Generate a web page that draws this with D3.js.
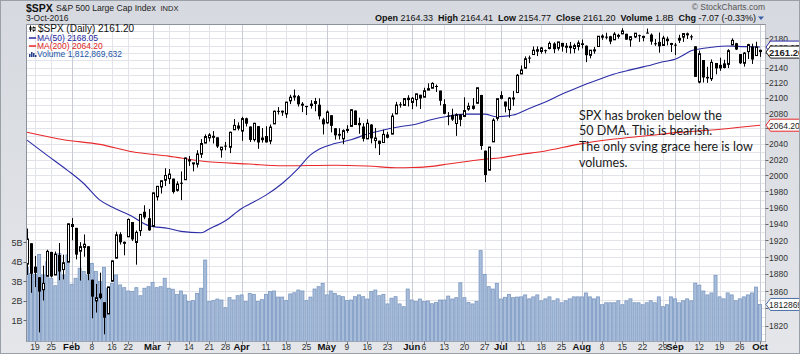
<!DOCTYPE html>
<html>
<head>
<meta charset="utf-8">
<script src="https://cdn.jsdelivr.net/npm/d3@7"></script>
<style>
body { margin: 0; background: #fff; }
svg { display: block; }
</style>
</head>
<body>
<div id="chart"></div>
<script>
// ---- data (S&P 500 daily, 14-Jan-2016 .. 3-Oct-2016) ----
const dates = [
"1/14","1/15","1/19","1/20","1/21","1/22","1/25","1/26","1/27","1/28","1/29",
"2/1","2/2","2/3","2/4","2/5","2/8","2/9","2/10","2/11","2/12","2/16","2/17","2/18","2/19","2/22","2/23","2/24","2/25","2/26","2/29",
"3/1","3/2","3/3","3/4","3/7","3/8","3/9","3/10","3/11","3/14","3/15","3/16","3/17","3/18","3/21","3/22","3/23","3/24","3/28","3/29","3/30","3/31",
"4/1","4/4","4/5","4/6","4/7","4/8","4/11","4/12","4/13","4/14","4/15","4/18","4/19","4/20","4/21","4/22","4/25","4/26","4/27","4/28","4/29",
"5/2","5/3","5/4","5/5","5/6","5/9","5/10","5/11","5/12","5/13","5/16","5/17","5/18","5/19","5/20","5/23","5/24","5/25","5/26","5/27","5/31",
"6/1","6/2","6/3","6/6","6/7","6/8","6/9","6/10","6/13","6/14","6/15","6/16","6/17","6/20","6/21","6/22","6/23","6/24","6/27","6/28","6/29","6/30",
"7/1","7/5","7/6","7/7","7/8","7/11","7/12","7/13","7/14","7/15","7/18","7/19","7/20","7/21","7/22","7/25","7/26","7/27","7/28","7/29",
"8/1","8/2","8/3","8/4","8/5","8/8","8/9","8/10","8/11","8/12","8/15","8/16","8/17","8/18","8/19","8/22","8/23","8/24","8/25","8/26","8/29","8/30","8/31",
"9/1","9/2","9/6","9/7","9/8","9/9","9/12","9/13","9/14","9/15","9/16","9/19","9/20","9/21","9/22","9/23","9/26","9/27","9/28","9/29","9/30",
"10/3"];

const opens = [
1891.68,1916.68,1888.66,1876.18,1861.46,1877.40,1906.28,1878.79,1902.52,1885.22,1894.00,
1936.94,1935.26,1907.07,1911.67,1913.07,1873.25,1848.46,1857.10,1847.00,1833.40,1871.44,1898.80,1927.57,1916.74,1924.44,1942.38,1917.56,1931.87,1954.95,1947.13,
1937.09,1973.39,1985.60,1994.01,1996.11,1996.05,1981.44,1990.97,1994.71,2019.27,2015.27,2014.24,2026.90,2041.16,2047.88,2048.64,2048.55,2032.48,2037.89,2035.75,2058.27,2063.77,
2056.62,2073.19,2062.50,2045.56,2063.01,2045.54,2050.23,2043.72,2065.92,2082.89,2083.10,2078.83,2096.05,2101.52,2102.09,2091.49,2089.37,2089.84,2092.57,2090.93,2071.82,
2067.17,2077.18,2060.30,2052.95,2046.61,2057.55,2062.63,2083.29,2067.17,2062.50,2046.53,2065.04,2044.38,2044.21,2041.88,2052.23,2052.65,2078.93,2091.44,2090.06,2100.13,
2093.94,2097.71,2104.07,2100.83,2110.18,2112.71,2115.65,2109.57,2091.75,2076.65,2077.60,2066.36,2078.20,2075.58,2085.19,2089.75,2092.80,2103.81,2031.45,2006.67,2042.69,2073.17,
2099.34,2095.05,2084.43,2100.42,2106.97,2131.72,2139.50,2153.81,2157.88,2165.13,2162.04,2163.79,2166.10,2172.91,2166.47,2173.71,2168.97,2169.81,2166.05,2168.83,
2173.15,2169.94,2156.81,2163.51,2168.79,2183.76,2182.24,2182.81,2177.97,2183.74,2186.08,2186.24,2177.84,2181.90,2184.24,2181.58,2187.81,2185.09,2173.29,2175.10,2170.19,2179.45,2173.56,
2171.33,2177.49,2181.61,2185.17,2182.76,2169.08,2120.86,2150.47,2127.86,2125.36,2146.48,2143.99,2145.94,2144.58,2170.94,2173.29,2158.54,2146.04,2161.85,2168.90,2156.51,
2164.33];

const highs = [
1934.47,1916.68,1901.44,1876.18,1889.85,1908.85,1906.28,1906.73,1916.99,1902.96,1940.24,
1947.20,1935.26,1918.01,1927.35,1913.07,1873.25,1868.25,1881.60,1847.00,1864.78,1895.77,1930.68,1930.00,1918.78,1946.70,1942.38,1932.08,1951.83,1962.96,1958.27,
1978.35,1986.51,1993.69,2009.13,2008.16,1996.05,1992.69,2005.08,2022.37,2024.57,2015.94,2032.02,2046.24,2052.36,2053.91,2056.60,2048.55,2036.04,2042.67,2055.91,2072.21,2067.92,
2075.07,2074.02,2062.50,2067.33,2063.01,2060.63,2062.93,2065.05,2083.18,2087.84,2083.22,2094.66,2104.05,2111.05,2103.78,2094.32,2089.37,2096.87,2099.89,2099.30,2073.85,
2083.42,2077.18,2060.30,2060.23,2058.79,2064.15,2084.87,2083.29,2073.99,2066.79,2071.88,2065.69,2060.61,2044.21,2058.35,2055.58,2079.67,2094.73,2094.30,2099.06,2103.48,
2100.97,2105.26,2104.07,2113.36,2119.22,2120.55,2117.64,2109.57,2098.12,2081.30,2085.65,2079.62,2078.20,2100.66,2093.66,2099.71,2113.32,2103.81,2031.45,2036.09,2073.13,2098.94,
2108.71,2095.05,2100.72,2109.08,2131.71,2143.16,2155.40,2156.45,2168.99,2169.05,2168.35,2164.63,2175.63,2174.56,2175.11,2173.71,2173.54,2174.98,2172.85,2177.09,
2178.29,2170.20,2163.79,2168.19,2182.87,2185.44,2187.66,2183.41,2188.45,2186.28,2193.81,2186.24,2183.08,2187.03,2185.00,2183.58,2193.42,2186.66,2179.01,2187.94,2183.48,2182.27,2173.79,
2173.56,2184.87,2186.57,2187.87,2184.94,2169.08,2163.30,2150.47,2141.33,2151.31,2146.48,2153.61,2150.80,2165.11,2179.99,2173.75,2158.54,2161.13,2172.40,2172.67,2175.30,
2164.41];

const lows = [
1878.93,1857.83,1864.60,1812.29,1848.98,1877.40,1875.97,1878.79,1872.70,1873.65,1894.00,
1920.30,1897.29,1872.23,1900.52,1872.65,1828.46,1834.94,1850.32,1810.10,1833.40,1871.44,1898.80,1915.09,1902.17,1924.44,1919.44,1891.00,1925.41,1945.78,1931.81,
1937.09,1968.80,1977.37,1986.77,1989.30,1977.43,1979.84,1969.25,1994.71,2012.05,2005.23,2010.04,2022.16,2041.16,2043.14,2040.57,2034.86,2022.49,2031.96,2028.31,2058.27,2057.46,
2043.98,2062.57,2042.56,2043.09,2033.80,2041.69,2041.88,2039.74,2065.92,2078.13,2076.31,2073.65,2091.68,2096.32,2088.52,2081.20,2077.52,2085.80,2082.31,2071.62,2052.28,
2066.11,2054.89,2045.55,2045.77,2039.74,2054.31,2062.63,2064.46,2053.13,2043.13,2046.53,2040.82,2034.49,2025.91,2041.88,2047.26,2052.65,2078.93,2087.08,2089.84,2088.66,
2085.10,2088.59,2085.36,2100.83,2110.18,2112.71,2107.73,2089.96,2078.46,2064.10,2069.80,2050.37,2062.84,2075.58,2083.02,2084.36,2092.80,2032.57,1991.68,2006.67,2042.69,2070.00,
2097.90,2080.86,2074.02,2089.39,2106.97,2131.72,2139.50,2146.21,2157.88,2155.79,2159.07,2159.40,2164.89,2159.75,2163.24,2161.95,2160.18,2159.07,2159.74,2163.49,
2166.21,2147.58,2152.70,2159.07,2168.79,2177.85,2178.61,2172.00,2177.97,2179.42,2186.08,2178.14,2168.50,2180.46,2175.13,2175.96,2186.80,2171.25,2169.74,2160.39,2170.19,2170.41,2161.35,
2157.09,2173.59,2175.10,2179.07,2177.49,2127.81,2119.12,2120.27,2119.90,2122.36,2131.20,2135.91,2139.17,2139.57,2170.94,2163.97,2145.04,2141.55,2151.79,2145.20,2156.51,
2154.77];

const closes = [
1921.84,1880.33,1881.33,1859.33,1868.99,1906.90,1877.08,1903.63,1882.95,1893.36,1940.24,
1939.38,1903.03,1912.53,1915.45,1880.05,1853.44,1852.21,1851.86,1829.08,1864.78,1895.58,1926.82,1917.83,1917.78,1945.50,1921.27,1929.80,1951.70,1948.05,1932.23,
1978.35,1986.45,1993.40,1999.99,2001.76,1979.26,1989.26,1989.57,2022.19,2019.64,2015.93,2027.22,2040.59,2049.58,2051.60,2049.80,2036.71,2035.94,2037.05,2055.01,2063.95,2059.74,
2072.78,2066.13,2045.17,2066.66,2041.91,2047.60,2041.99,2061.72,2082.42,2082.78,2080.73,2094.34,2100.80,2102.40,2091.48,2091.58,2087.79,2091.70,2095.15,2075.81,2065.30,
2081.43,2063.37,2051.12,2050.63,2057.14,2058.69,2084.39,2064.46,2064.11,2046.61,2066.66,2047.21,2047.63,2040.04,2052.32,2048.04,2076.06,2090.54,2090.10,2099.06,2096.95,
2099.33,2105.26,2099.13,2109.41,2112.13,2119.12,2115.48,2096.07,2079.06,2075.32,2071.50,2077.99,2071.22,2083.25,2088.90,2085.45,2113.32,2037.41,2000.54,2036.09,2070.77,2098.86,
2102.95,2088.55,2099.73,2097.90,2129.90,2137.16,2152.14,2152.43,2163.75,2161.74,2166.89,2163.78,2173.02,2165.17,2175.03,2168.48,2169.18,2166.58,2170.06,2173.60,
2170.84,2157.03,2163.79,2164.25,2182.87,2180.89,2181.74,2175.49,2185.79,2184.05,2190.15,2178.15,2182.22,2187.02,2183.87,2182.64,2186.90,2175.44,2172.47,2169.04,2180.38,2176.12,2170.95,
2170.86,2179.98,2186.48,2186.16,2181.30,2127.81,2159.04,2127.02,2125.77,2147.26,2139.16,2139.12,2139.76,2163.12,2177.18,2164.69,2146.10,2159.93,2171.37,2151.13,2168.27,
2161.20];

// volume in billions of shares
const volumes = [
3.70,3.40,3.35,4.37,3.32,4.00,3.15,2.77,4.42,3.32,
4.34,2.84,3.15,3.66,3.49,3.32,3.91,3.49,2.98,3.71,
2.64,2.89,3.32,2.81,2.67,2.50,2.47,2.67,2.26,2.64,
2.72,2.94,2.67,2.72,3.15,2.64,2.59,2.33,2.50,2.30,
1.96,2.01,2.38,2.64,4.08,1.96,2.01,2.09,2.04,1.65,
2.16,2.04,2.26,2.30,1.96,2.38,2.33,1.96,2.06,2.33,
2.47,2.50,2.19,2.19,2.01,2.35,2.41,2.55,2.50,2.01,
2.19,2.60,2.72,2.89,2.30,2.50,2.38,2.26,2.21,2.01,
2.04,2.21,2.30,2.21,2.09,2.47,2.55,2.26,2.33,1.84,
2.13,2.21,1.84,1.70,2.60,2.04,1.96,2.09,1.96,1.99,
1.85,1.91,2.04,2.04,2.24,2.09,2.16,2.92,2.16,1.92,
1.84,1.96,4.56,3.35,2.72,2.60,2.89,2.09,2.18,2.33,
2.16,2.19,2.20,2.30,2.10,2.20,2.30,2.00,2.10,2.20,
2.00,2.10,1.90,2.00,2.10,2.20,2.20,2.20,2.40,2.20,
2.10,2.20,1.80,1.90,1.90,1.90,2.00,1.80,2.00,2.10,
1.90,1.90,1.80,1.90,2.00,1.90,2.20,1.70,1.80,2.20,
2.10,1.90,2.00,2.10,2.00,2.90,2.80,2.50,2.30,2.40,
3.30,2.20,2.10,2.40,2.30,2.00,2.10,2.20,2.30,2.40,
2.70,1.812869632];

// moving averages
const ma50Dates = ["1/14","1/22","1/29","2/4","2/10","2/16","2/23","2/29","3/7","3/10","3/17","3/21","3/28","4/1","4/5","4/11","4/15","4/21","4/26","4/28",
  "5/4","5/10","5/16","5/20","5/26","6/2","6/8","6/14","6/20","6/27","6/30","7/7","7/13","7/19","7/25","7/29","8/5","8/11","8/17","8/23","8/29",
  "9/1","9/6","9/8","9/12","9/15","9/21","9/27","10/3"];
const ma50Values = [2045.0,2025.5,2006.5,1990.0,1969.3,1960.7,1949.0,1938.0,1934.5,1931.0,1929.3,1934.0,1944.0,1959.0,1964.4,1975.5,1990.0,2009.0,2026.0,2033.0,
  2040.5,2045.3,2052.7,2058.0,2062.2,2065.5,2071.6,2075.8,2078.6,2078.6,2075.2,2077.4,2086.1,2094.6,2104.8,2113.8,2124.0,2131.6,2137.2,2142.3,2148.2,
  2151.4,2157.0,2163.0,2165.5,2167.7,2169.5,2168.7,2168.05];

const ma200Dates = ["1/14","1/28","2/10","2/23","3/7","3/17","4/5","4/15","5/4","5/16","5/26","6/1","6/8","6/14","6/21","6/27","7/1","7/8","7/19","7/29",
  "8/11","8/23","9/2","9/15","9/26","10/3"];
const ma200Values = [2055.0,2045.5,2039.5,2030.0,2024.5,2018.2,2014.4,2012.2,2013.0,2011.9,2009.7,2010.0,2011.5,2014.5,2018.0,2020.5,2022.5,2026.0,2031.0,2039.5,
  2046.3,2050.5,2054.9,2057.9,2061.5,2064.2];

const priceTicks = [1820,1840,1860,1880,1900,1920,1940,1960,1980,2000,2020,2040,2060,2080,2100,2120,2140,2160,2180];
const volumeTicks = [1,2,3,4,5];
const tickDates = ["1/19","1/25","2/1","2/8","2/16","2/22","3/1","3/7","3/14","3/21","3/28","4/1","4/11","4/18","4/25","5/2","5/9","5/16","5/23",
  "6/1","6/6","6/13","6/20","6/27","7/1","7/11","7/18","7/25","8/1","8/8","8/15","8/22","8/29","9/1","9/12","9/19","9/26","10/3"];
const tickLabels = ["19","25","Feb","8","16","22","Mar","7","14","21","28","Apr","11","18","25","May","9","16","23",
  "Jun","6","13","20","27","Jul","11","18","25","Aug","8","15","22","29","Sep","12","19","26","Oct"];

const noteLines = ["SPX has broken below the", "50 DMA. This is bearish.", "The only sving grace here is low", "volumes."];

// ---- layout ----
const W = 800, H = 354;
const plot = {left: 26.5, right: 765.5, top: 24.5, bottom: 341.5};
const n = dates.length, last = n - 1;

const svg = d3.select("#chart").append("svg")
  .attr("width", W).attr("height", H)
  .style("font-family", "Arial, 'Liberation Sans', sans-serif");

const defs = svg.append("defs");
const grad = defs.append("linearGradient").attr("id", "frame").attr("x1", 0).attr("y1", 0).attr("x2", 0).attr("y2", 1);
grad.append("stop").attr("offset", "0%").attr("stop-color", "#d6d9df");
grad.append("stop").attr("offset", "100%").attr("stop-color", "#e4e6ea");
defs.append("clipPath").attr("id", "plotclip").append("rect")
  .attr("x", plot.left).attr("y", plot.top)
  .attr("width", plot.right - plot.left).attr("height", plot.bottom - plot.top);

svg.append("rect").attr("width", W).attr("height", H).attr("fill", "url(#frame)");
svg.append("rect").attr("x", plot.left).attr("y", plot.top)
  .attr("width", plot.right - plot.left).attr("height", plot.bottom - plot.top)
  .attr("fill", "#fff");

// scales
const x = d3.scaleBand().domain(dates).range([24.975, 24.975 + 4.05 * n]);
const cx = d => x(d) + x.bandwidth() / 2;
const px = d => Math.round(cx(d));
const y = d3.scaleLog().domain([1802.5, 2199]).range([341, 24.5]);
const yv = d3.scaleLinear().domain([0, 5]).range([340, 242]);

const body = svg.append("g").attr("clip-path", "url(#plotclip)");

// grid
body.append("g").selectAll("line")
  .data(d3.range(1810, 2200, 10))
  .join("line")
  .attr("x1", plot.left).attr("x2", plot.right)
  .attr("y1", d => Math.round(y(d)) + 0.5).attr("y2", d => Math.round(y(d)) + 0.5)
  .attr("stroke", "#e2e4ea");

body.append("g").selectAll("line")
  .data(tickDates)
  .join("line")
  .attr("x1", d => px(d) + 0.5).attr("x2", d => px(d) + 0.5)
  .attr("y1", plot.top).attr("y2", plot.bottom)
  .attr("stroke", (d, i) => isNaN(+tickLabels[i]) ? "#c9ccd5" : "#e2e4ea");

// volume bars
body.append("g").selectAll("rect")
  .data(dates)
  .join("rect")
  .attr("x", d => x(d) + 0.5)
  .attr("width", x.bandwidth() - 1)
  .attr("y", (d, i) => yv(volumes[i]))
  .attr("height", (d, i) => yv(0) - yv(volumes[i]) + 2)
  .attr("fill", "#a8bdd9")
  .attr("stroke", "#7a97c1")
  .attr("stroke-width", 0.8);

// moving averages
const maLine = d3.line().x(d => cx(d[0])).y(d => y(d[1])).curve(d3.curveMonotoneX);
body.append("path")
  .attr("d", maLine(d3.zip(ma200Dates, ma200Values)))
  .attr("fill", "none").attr("stroke", "#e8282b").attr("stroke-width", 1.1);
body.append("path")
  .attr("d", maLine(d3.zip(ma50Dates, ma50Values)))
  .attr("fill", "none").attr("stroke", "#2c2ca6").attr("stroke-width", 1.1);

// candles
const candles = body.append("g");
candles.selectAll("line")
  .data(dates)
  .join("line")
  .attr("x1", d => px(d) + 0.5).attr("x2", d => px(d) + 0.5)
  .attr("y1", (d, i) => y(highs[i])).attr("y2", (d, i) => y(lows[i]))
  .attr("stroke", "#000");
candles.selectAll("rect")
  .data(dates)
  .join("rect")
  .each(function(d, i) {
    const up = closes[i] >= opens[i];
    const top = y(Math.max(opens[i], closes[i]));
    const h = Math.max(1, y(Math.min(opens[i], closes[i])) - top);
    const r = d3.select(this);
    if (up) {
      r.attr("x", px(d) - 0.5).attr("width", 2)
        .attr("y", top).attr("height", h)
        .attr("fill", "#fff").attr("stroke", "#000").attr("stroke-width", 1);
    } else {
      r.attr("x", px(d) - 1).attr("width", 3)
        .attr("y", top).attr("height", h)
        .attr("fill", "#000");
    }
  });

// plot border
svg.append("line").attr("x1", plot.left).attr("x2", plot.left).attr("y1", plot.top).attr("y2", plot.bottom).attr("stroke", "#8c929c");
svg.append("line").attr("x1", plot.left).attr("x2", plot.right).attr("y1", plot.top).attr("y2", plot.top).attr("stroke", "#8c929c");
svg.append("line").attr("x1", plot.right).attr("x2", plot.right).attr("y1", plot.top).attr("y2", plot.bottom)
  .attr("stroke", "#7d838d").attr("stroke-dasharray", "1,1");
svg.append("line").attr("x1", plot.left).attr("x2", plot.right).attr("y1", plot.bottom).attr("y2", plot.bottom)
  .attr("stroke", "#7d838d").attr("stroke-dasharray", "1,1");

// value tags on the right (drawn over the axis, which hides the labels under them)
const tags = [
  {val: ma200Values[ma200Values.length - 1].toFixed(2), yy: y(ma200Values[ma200Values.length - 1]), stroke: "#e8282b", bold: false},
  {val: ma50Values[ma50Values.length - 1].toFixed(2), yy: y(ma50Values[ma50Values.length - 1]), stroke: "#2c2ca6", bold: false},
  {val: closes[last].toFixed(2), yy: y(closes[last]), stroke: "#222", bold: true},
  {val: String(Math.round(volumes[last] * 1e9)), yy: yv(volumes[last]), stroke: "#4a6fa8", bold: false}
];
const hidden = d => tags.some(t => Math.abs(y(d) - t.yy) < 8);

// right price axis
const ra = svg.append("g");
ra.selectAll("line").data(priceTicks).join("line")
  .attr("x1", plot.right).attr("x2", plot.right + 3)
  .attr("y1", d => Math.round(y(d)) + 0.5).attr("y2", d => Math.round(y(d)) + 0.5)
  .attr("stroke", "#666");
ra.selectAll("text").data(priceTicks.filter(d => !hidden(d))).join("text")
  .attr("x", 769).attr("y", d => y(d) + 3.5)
  .attr("font-size", 8.5).attr("fill", "#333")
  .text(d => d);

tags.forEach(t => {
  const g = svg.append("g");
  g.append("path")
    .attr("d", `M${plot.right + 0.5},${t.yy} L${plot.right + 5},${t.yy - 6} L${W + 2},${t.yy - 6} L${W + 2},${t.yy + 6} L${plot.right + 5},${t.yy + 6} Z`)
    .attr("fill", "#fff").attr("stroke", t.stroke).attr("stroke-width", 1);
  g.append("text").attr("x", plot.right + 3.5).attr("y", t.yy + 3.5)
    .attr("font-size", t.bold ? 9.5 : 8.5).attr("font-weight", t.bold ? "bold" : "normal")
    .attr("fill", "#222").text(t.val);
});

// left volume axis
const la = svg.append("g");
la.selectAll("line").data(volumeTicks).join("line")
  .attr("x1", plot.left - 3).attr("x2", plot.left)
  .attr("y1", d => Math.round(yv(d)) + 0.5).attr("y2", d => Math.round(yv(d)) + 0.5)
  .attr("stroke", "#666");
la.selectAll("text").data(volumeTicks).join("text")
  .attr("x", plot.left - 4).attr("y", d => yv(d) + 3.5)
  .attr("text-anchor", "end").attr("font-size", 9).attr("fill", "#333")
  .text(d => d + "B");

// bottom date axis
const ba = svg.append("g");
ba.selectAll("line").data(tickDates).join("line")
  .attr("x1", d => px(d) + 0.5).attr("x2", d => px(d) + 0.5)
  .attr("y1", plot.bottom).attr("y2", plot.bottom + 3)
  .attr("stroke", "#777");
ba.selectAll("text").data(tickDates).join("text")
  .attr("x", d => cx(d)).attr("y", 349.5)
  .attr("text-anchor", "middle")
  .attr("font-size", (d, i) => isNaN(+tickLabels[i]) ? 9.5 : 8.5)
  .attr("font-weight", (d, i) => isNaN(+tickLabels[i]) ? "bold" : "normal")
  .attr("fill", (d, i) => isNaN(+tickLabels[i]) ? "#111" : "#333")
  .text((d, i) => tickLabels[i]);

// header
svg.append("text").attr("x", 26).attr("y", 11.5)
  .attr("font-size", 10.5).attr("font-weight", "bold").attr("fill", "#111").text("$SPX");
svg.append("text").attr("x", 56).attr("y", 11)
  .attr("font-size", 8.6).attr("fill", "#222").text("S&P 500 Large Cap Index");
svg.append("text").attr("x", 160.5).attr("y", 11)
  .attr("font-size", 7.5).attr("fill", "#222").text("INDX");
svg.append("text").attr("x", 26).attr("y", 21)
  .attr("font-size", 8.5).attr("fill", "#222").text("3-Oct-2016");
svg.append("text").attr("x", 765).attr("y", 10)
  .attr("text-anchor", "end").attr("font-size", 8.5).attr("fill", "#555")
  .text("\u00a9 StockCharts.com");

const chg = closes[last] - closes[last - 1];
const quote = [
  ["Open", opens[last].toFixed(2)],
  ["High", highs[last].toFixed(2)],
  ["Low", lows[last].toFixed(2)],
  ["Close", closes[last].toFixed(2)],
  ["Volume", (volumes[last]).toFixed(1) + "B"],
  ["Chg", chg.toFixed(2) + " (" + (chg / closes[last - 1] * 100).toFixed(2) + "%)"]
];
const qt = svg.append("text").attr("x", 756).attr("y", 21)
  .attr("text-anchor", "end").attr("font-size", 9).attr("fill", "#111")
  .attr("xml:space", "preserve");
quote.forEach((q, i) => {
  qt.append("tspan").attr("font-weight", "bold").text((i ? "  " : "") + q[0] + " ");
  qt.append("tspan").text(q[1]);
});
svg.append("path").attr("d", "M758,16.5 L764,16.5 L761,20 Z").attr("fill", "#3a5fa6");

// legend
const lg = svg.append("g").attr("font-size", 8.5);
lg.append("line").attr("x1", 30.5).attr("x2", 30.5).attr("y1", 25.5).attr("y2", 31.5).attr("stroke", "#000");
lg.append("rect").attr("x", 29.5).attr("y", 27).attr("width", 2).attr("height", 3).attr("fill", "#000");
lg.append("line").attr("x1", 33.5).attr("x2", 33.5).attr("y1", 26.5).attr("y2", 31.5).attr("stroke", "#000");
lg.append("rect").attr("x", 33).attr("y", 27.5).attr("width", 2).attr("height", 3).attr("fill", "#fff").attr("stroke", "#000").attr("stroke-width", 0.8);
lg.append("text").attr("x", 38).attr("y", 32).attr("font-size", 10).attr("fill", "#111")
  .text("$SPX (Daily) " + closes[last].toFixed(2));
lg.append("line").attr("x1", 29).attr("x2", 36).attr("y1", 38).attr("y2", 38).attr("stroke", "#2c2ca6").attr("stroke-width", 1.5);
lg.append("text").attr("x", 37).attr("y", 41).attr("fill", "#2424a0")
  .text("MA(50) " + ma50Values[ma50Values.length - 1].toFixed(2));
lg.append("line").attr("x1", 29).attr("x2", 36).attr("y1", 46).attr("y2", 46).attr("stroke", "#e8282b").attr("stroke-width", 1.5);
lg.append("text").attr("x", 37).attr("y", 49).attr("fill", "#e02424")
  .text("MA(200) " + ma200Values[ma200Values.length - 1].toFixed(2));
[[29, 3], [31, 5], [33, 4], [35, 2]].forEach(b => {
  lg.append("rect").attr("x", b[0]).attr("y", 57 - b[1]).attr("width", 1.5).attr("height", b[1]).attr("fill", "#27408b");
});
lg.append("text").attr("x", 37).attr("y", 57).attr("fill", "#2456a6")
  .text("Volume " + d3.format(",")(Math.round(volumes[last] * 1e9)));

// annotation
svg.append("g").selectAll("text").data(noteLines).join("text")
  .attr("x", 579).attr("y", (d, i) => 119.5 + i * 15.9)
  .attr("font-family", "Lato, 'Open Sans', sans-serif")
  .attr("font-size", 12.5).attr("fill", "#1a1a1a")
  .text(d => d);

// outer frame
svg.append("rect").attr("x", 0.5).attr("y", 0.5).attr("width", W - 1).attr("height", H - 1)
  .attr("fill", "none").attr("stroke", "#9aa0a8");
</script>
</body>
</html>
